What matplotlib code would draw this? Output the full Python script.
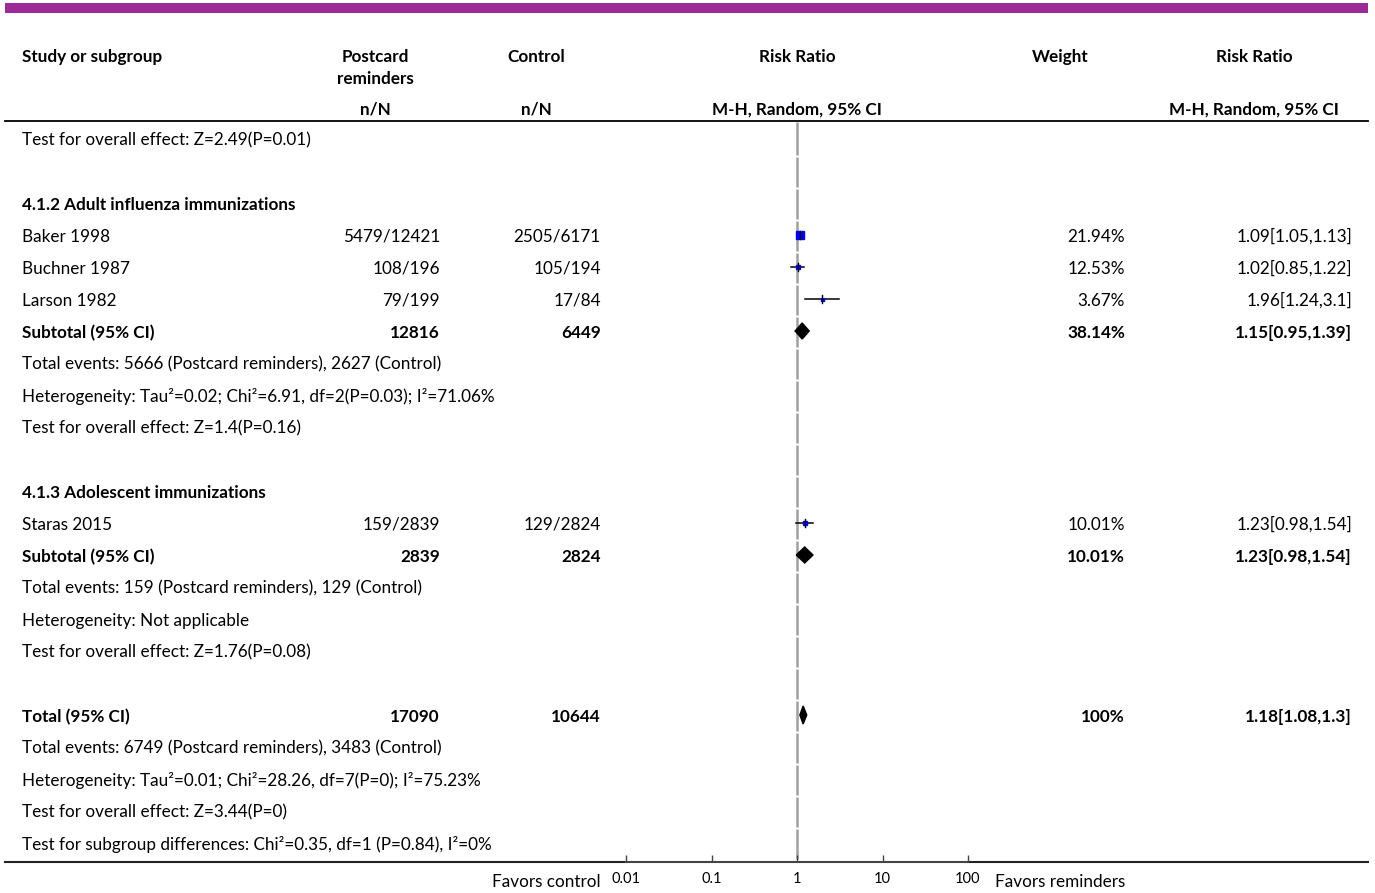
import matplotlib
matplotlib.use("Agg")
import matplotlib.pyplot as plt
from matplotlib.patches import Polygon, Rectangle
import numpy as np

plt.rcParams['font.family'] = ['Lato', 'DejaVu Sans']

# ---------------- data ----------------
studies = ["Baker 1998", "Buchner 1987", "Larson 1982", "Staras 2015"]
study_rows = [3, 4, 5, 12]
exp_nN = ["5479/12421", "108/196", "79/199", "159/2839"]
ctl_nN = ["2505/6171", "105/194", "17/84", "129/2824"]
weights = ["21.94%", "12.53%", "3.67%", "10.01%"]
rr = [1.09, 1.02, 1.96, 1.23]
rr_lo = [1.05, 0.85, 1.24, 0.98]
rr_hi = [1.13, 1.22, 3.1, 1.54]
rr_text = ["1.09[1.05,1.13]", "1.02[0.85,1.22]", "1.96[1.24,3.1]", "1.23[0.98,1.54]"]
square_px = [8, 5, 3, 4]

pooled_labels = ["Subtotal (95% CI)", "Subtotal (95% CI)", "Total (95% CI)"]
pooled_rows = [6, 13, 18]
pooled_exp = ["12816", "2839", "17090"]
pooled_ctl = ["6449", "2824", "10644"]
pooled_weight = ["38.14%", "10.01%", "100%"]
pooled_rr = [1.15, 1.23, 1.18]
pooled_lo = [0.95, 0.98, 1.08]
pooled_hi = [1.39, 1.54, 1.3]
pooled_text = ["1.15[0.95,1.39]", "1.23[0.98,1.54]", "1.18[1.08,1.3]"]
pooled_halfh = [8, 8, 9]

subgroup_heads = ["4.1.2 Adult influenza immunizations", "4.1.3 Adolescent immunizations"]
subgroup_rows = [2, 11]

notes = [
    (0, "Test for overall effect: Z=2.49(P=0.01)"),
    (7, "Total events: 5666 (Postcard reminders), 2627 (Control)"),
    (8, "Heterogeneity: Tau\u00b2=0.02; Chi\u00b2=6.91, df=2(P=0.03); I\u00b2=71.06%"),
    (9, "Test for overall effect: Z=1.4(P=0.16)"),
    (14, "Total events: 159 (Postcard reminders), 129 (Control)"),
    (15, "Heterogeneity: Not applicable"),
    (16, "Test for overall effect: Z=1.76(P=0.08)"),
    (19, "Total events: 6749 (Postcard reminders), 3483 (Control)"),
    (20, "Heterogeneity: Tau\u00b2=0.01; Chi\u00b2=28.26, df=7(P=0); I\u00b2=75.23%"),
    (21, "Test for overall effect: Z=3.44(P=0)"),
    (22, "Test for subgroup differences: Chi\u00b2=0.35, df=1 (P=0.84), I\u00b2=0%"),
]
n_rows = 23

tick_vals = [0.01, 0.1, 1, 10, 100]
tick_labels = ["0.01", "0.1", "1", "10", "100"]

# ---------------- layout ----------------
W, H = 1375, 893
fig = plt.figure(figsize=(W / 100, H / 100), dpi=100)
ax = fig.add_axes([0, 0, 1, 1])
ax.set_xlim(0, W)
ax.set_ylim(H, 0)
ax.axis("off")

FS = 12.3
row0 = 139
dy = 32
TOFF = 1.8  # text vertical nudge


def ry(r):
    return row0 + r * dy


x_name = 22
x_exp = 440
x_ctl = 601
x_w = 1125
x_rr = 1352

# purple top bar
ax.add_patch(Rectangle((5, 3), 1363, 10, color="#9B2A97", lw=0))

# headers
hb = dict(fontsize=FS, fontweight="bold", va="center")
ax.text(x_name, 55 + TOFF, "Study or subgroup", ha="left", **hb)
ax.text(375, 55 + TOFF, "Postcard", ha="center", **hb)
ax.text(375, 77 + TOFF, "reminders", ha="center", **hb)
ax.text(536, 55 + TOFF, "Control", ha="center", **hb)
ax.text(797, 55 + TOFF, "Risk Ratio", ha="center", **hb)
ax.text(1060, 55 + TOFF, "Weight", ha="center", **hb)
ax.text(1254, 55 + TOFF, "Risk Ratio", ha="center", **hb)
ax.text(375, 108 + TOFF, "n/N", ha="center", **hb)
ax.text(536, 108 + TOFF, "n/N", ha="center", **hb)
ax.text(797, 108 + TOFF, "M-H, Random, 95% CI", ha="center", **hb)
ax.text(1254, 108 + TOFF, "M-H, Random, 95% CI", ha="center", **hb)

ax.plot([5, 1368], [121, 121], color="black", lw=1.3)
ax.plot([5, 626], [862, 862], color="#222222", lw=1.5)
ax.plot([968, 1368], [862, 862], color="#222222", lw=1.5)

body = dict(fontsize=FS, va="center")
for r, t in notes:
    ax.text(x_name, ry(r) + TOFF, t, ha="left", **body)
for r, t in zip(subgroup_rows, subgroup_heads):
    ax.text(x_name, ry(r) + TOFF, t, ha="left", fontweight="bold", **body)
for i, r in enumerate(study_rows):
    y = ry(r) + TOFF
    ax.text(x_name, y, studies[i], ha="left", **body)
    ax.text(x_exp, y, exp_nN[i], ha="right", **body)
    ax.text(x_ctl, y, ctl_nN[i], ha="right", **body)
    ax.text(x_w, y, weights[i], ha="right", **body)
    ax.text(x_rr, y, rr_text[i], ha="right", **body)
for i, r in enumerate(pooled_rows):
    y = ry(r) + TOFF
    bb = dict(body, fontweight="bold")
    ax.text(x_name, y, pooled_labels[i], ha="left", **bb)
    ax.text(x_exp, y, pooled_exp[i], ha="right", **bb)
    ax.text(x_ctl, y, pooled_ctl[i], ha="right", **bb)
    ax.text(x_w, y, pooled_weight[i], ha="right", **bb)
    ax.text(x_rr, y, pooled_text[i], ha="right", **bb)

ax.text(601, 882, "Favors control", ha="right", va="center", fontsize=FS)
ax.text(995, 882, "Favors reminders", ha="left", va="center", fontsize=FS)

# ---------------- forest axes (log scale) ----------------
fx0, fx1 = 626, 968
fa = fig.add_axes([fx0 / W, 0, (fx1 - fx0) / W, 1])
fa.patch.set_alpha(0)
fa.set_xscale("log")
fa.set_xlim(0.01, 100)
fa.set_ylim(H, 0)
for s in ["top", "left", "right"]:
    fa.spines[s].set_visible(False)
fa.spines["bottom"].set_position(("data", 862))
fa.spines["bottom"].set_color("#444444")
fa.spines["bottom"].set_linewidth(1.5)
fa.set_yticks([])
fa.set_xticks(tick_vals)
fa.set_xticklabels(tick_labels)
fa.xaxis.set_minor_locator(matplotlib.ticker.NullLocator())
fa.tick_params(axis="x", direction="in", length=5, width=1, color="#444444",
               labelsize=10.5, pad=7)

# null line at RR = 1, broken at row borders
fa.plot([1, 1], [122, ry(0) + dy / 2], color="#a0a0a0", lw=1.8,
        solid_capstyle="butt", zorder=1)
for r in range(1, n_rows):
    top = ry(r) - dy / 2 + 1.5
    bot = min(ry(r) + dy / 2, 862)
    fa.plot([1, 1], [top, bot], color="#a0a0a0", lw=1.8,
            solid_capstyle="butt", zorder=1)

for i, r in enumerate(study_rows):
    y = ry(r)
    fa.plot([rr_lo[i], rr_hi[i]], [y, y], color="black", lw=1.1, zorder=3)
    fa.plot([rr[i]], [y], marker="s", markersize=square_px[i] * 0.72,
            color="#0000ff", mec="#0000ff", zorder=4)
    fa.plot([rr[i], rr[i]], [y - 4, y + 4], color="black", lw=1.0, zorder=5)

for i, r in enumerate(pooled_rows):
    y = ry(r)
    h = pooled_halfh[i]
    poly = Polygon([(pooled_lo[i], y), (pooled_rr[i], y - h),
                    (pooled_hi[i], y), (pooled_rr[i], y + h)],
                   closed=True, color="black", zorder=4)
    fa.add_patch(poly)

fig.savefig("out.png", dpi=100)
